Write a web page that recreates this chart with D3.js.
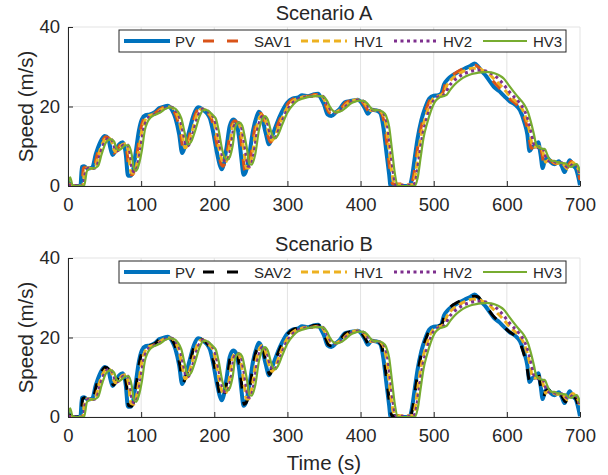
<!DOCTYPE html>
<html>
<head>
<meta charset="utf-8">
<script src="https://cdn.jsdelivr.net/npm/d3@7"></script>
<style>
  body { margin: 0; background: #fff; }
  text { font-family: "Liberation Sans", Arial, sans-serif; fill: #262626; }
</style>
</head>
<body>
<script>
// [time (s), speed (m/s)]
let pvSpeed = [[0,1],[3,0.5],[6,0],[17,0],[19,4.8],[22,5],[27,4.4],[33,4.6],[38,8],[44,11],[50,12.6],[55,12],[58,9.5],[61,7.8],[65,8.8],[70,10.5],[75,11],[79,8],[82,2.6],[86,2.6],[89,4],[93,9],[97,14],[101,16.8],[106,17.8],[112,18],[118,18.5],[125,19.6],[132,20],[136,20.2],[142,19.2],[147,17],[152,13],[156,8.3],[160,10],[166,14],[172,18],[178,19.8],[184,19.3],[190,18.3],[194,17],[198,14],[203,9],[208,5],[210,4.2],[213,5.5],[217,10],[221,15],[226,16.7],[230,16],[234,12],[237,7],[240,2.8],[243,3.5],[248,8],[253,14],[258,17.5],[261,18.7],[265,17.5],[270,13.5],[275,10.5],[279,12.5],[285,15.5],[292,18.5],[300,21],[307,22],[315,22.3],[320,22.8],[328,22.6],[335,23],[342,23.2],[346,22],[350,20.5],[355,18],[360,17.6],[366,18.5],[372,19.5],[378,21],[384,21.3],[390,21.5],[396,21.7],[401,21],[406,19.5],[410,18.2],[415,19.2],[422,19],[427,18.3],[431,15],[435,9],[439,3],[441,0],[467,0],[470,2],[474,7],[478,12],[483,16.5],[488,19.5],[494,22],[500,22.7],[505,22.8],[510,23.2],[514,25.5],[520,27],[527,28],[535,28.8],[542,29.5],[550,30.2],[556,30.8],[561,30],[566,28.8],[571,27.8],[576,26.5],[582,25],[590,23.8],[597,22.5],[604,21.3],[611,20.5],[618,19],[624,16],[628,13],[631,8.8],[635,9.8],[639,10],[643,11],[646,8],[649,4.5],[652,6.5],[656,7],[660,6],[665,5.5],[671,6.2],[675,5],[679,3.5],[683,5.5],[686,6.5],[690,5.2],[694,4.5],[698,2],[700,0.2]];

let sav1Speed = [[0,0.5],[5,0.3],[8,0],[19,0],[21,4.5],[25,4.8],[30,4.4],[35,4.6],[40,8],[46,11],[52,12.4],[57,11.8],[60,9.6],[63,8.3],[67,9],[72,10.5],[77,10.8],[81,8],[84,3],[88,2.8],[91,4.2],[95,9],[99,14],[103,16.6],[108,17.7],[114,18],[120,18.5],[127,19.5],[134,20],[138,20],[144,19.1],[149,17],[154,13],[158,9],[162,10.2],[168,14],[174,18],[180,19.6],[186,19.2],[192,18.2],[196,17],[200,14],[205,9],[210,5.3],[212,5],[215,6],[219,10],[223,15],[228,16.4],[232,15.8],[236,12],[239,7.5],[242,3.8],[245,4],[250,8],[255,14],[260,17.5],[263,18.3],[267,17.3],[272,13.5],[277,11],[281,12.5],[287,15.5],[294,18.5],[302,21],[309,22],[317,22.5],[322,22.6],[330,22.6],[337,23],[344,23],[348,22],[352,20.5],[357,18.5],[362,18.2],[368,18.8],[374,19.7],[380,21],[386,21.5],[392,21.8],[398,21.8],[403,21],[408,19.6],[412,18.7],[417,19.2],[424,19],[429,18.2],[433,15],[437,9],[441,3],[444,0.5],[468,0.5],[472,2],[476,7],[480,12],[485,16.5],[490,19.5],[496,22],[502,22.7],[507,22.8],[512,23.3],[516,25.8],[522,27.3],[529,28.3],[537,29.2],[544,29.8],[551,30.3],[557,30.4],[563,29.6],[568,28.6],[573,27.8],[578,27],[584,25.8],[592,24.2],[599,22.8],[606,21.6],[613,20.6],[620,19],[626,16],[630,13],[633,9.5],[637,9.8],[641,10],[645,10.5],[648,8],[651,5.5],[654,6.5],[658,6.8],[662,6],[667,5.6],[673,6],[677,5],[681,4],[685,5.5],[688,6.2],[692,5.3],[696,4.3],[700,1.5]];

let sav2Speed = [[0,0.6],[5,0.3],[8,0],[18,0],[20,4.6],[24,4.9],[29,4.4],[34,4.6],[39,8],[45,11],[51,12.5],[56,11.9],[59,9.5],[62,8],[66,8.9],[71,10.5],[76,10.9],[80,8],[83,2.8],[87,2.7],[90,4.1],[94,9],[98,14],[102,16.7],[107,17.8],[113,18],[119,18.5],[126,19.6],[133,20],[137,20.1],[143,19.2],[148,17],[153,13],[157,8.6],[161,10.1],[167,14],[173,18],[179,19.7],[185,19.3],[191,18.3],[195,17],[199,14],[204,9],[209,4.8],[211,4.6],[214,5.7],[218,10],[222,15],[227,16.5],[231,15.9],[235,12],[238,7.2],[241,3.2],[244,3.7],[249,8],[254,14],[259,17.5],[262,18.5],[266,17.4],[271,13.5],[276,10.7],[280,12.5],[286,15.5],[293,18.5],[301,21],[308,22],[316,22.4],[321,22.8],[329,22.6],[336,23],[343,23.1],[347,22],[351,20.5],[356,18.2],[361,17.9],[367,18.6],[373,19.6],[379,21],[385,21.4],[391,21.6],[397,21.7],[402,21],[407,19.5],[411,18.4],[416,19.2],[423,19],[428,18.2],[432,15],[436,9],[440,3],[443,0.3],[468,0.3],[471,2],[475,7],[479,12],[484,16.5],[489,19.5],[495,22],[501,22.7],[506,22.8],[511,23.3],[515,25.7],[521,27.3],[528,28.4],[536,29.2],[543,29.7],[550,30.2],[556,30.4],[561,30.2],[565,29.2],[570,28.2],[575,27],[581,25.5],[589,24],[596,22.7],[603,21.5],[610,20.6],[617,19],[623,16],[627,13],[631,9.2],[635,9.8],[639,10],[643,10.8],[646,8],[650,5],[653,6.5],[657,6.9],[661,6],[666,5.5],[672,6.1],[676,5],[680,3.8],[684,5.5],[687,6.3],[691,5.2],[695,4.4],[699,1.8],[700,1]];

// human-driven followers look the same in both scenarios
let hv1Speed = [[0,0.3],[7,0],[20,0],[23,4],[27,4.6],[32,4.4],[37,4.8],[42,8],[48,11],[54,12.2],[59,11.5],[62,9.5],[65,8.6],[69,9.2],[74,10.4],[79,10.6],[83,8],[86,3.5],[90,3.2],[93,4.5],[97,9],[101,14],[105,16.4],[110,17.6],[116,18],[122,18.5],[129,19.4],[136,19.9],[140,19.9],[146,19],[151,17],[156,13],[160,9.6],[164,10.4],[170,14],[176,17.8],[182,19.4],[188,19.1],[194,18],[198,17],[202,14],[207,9],[212,6],[214,5.8],[217,6.5],[221,10],[225,15],[230,16.2],[234,15.6],[238,12],[241,8],[244,4.5],[247,4.5],[252,8],[257,14],[262,17.3],[265,18],[269,17.1],[274,13.5],[279,11.5],[283,12.5],[289,15.5],[296,18.5],[304,20.8],[311,21.8],[319,22.3],[326,22.6],[334,22.6],[341,22.8],[346,22.8],[350,21.8],[354,20.3],[359,18.7],[364,18.4],[370,18.9],[376,19.7],[382,20.8],[388,21.4],[394,21.7],[400,21.6],[405,21],[410,19.7],[414,19],[419,19.1],[426,18.9],[431,18],[435,15],[439,9],[443,3],[447,0.3],[470,0.3],[474,2],[478,7],[482,12],[487,16.2],[492,19.2],[498,21.7],[504,22.5],[509,22.8],[514,23.4],[518,25.3],[524,26.8],[531,27.8],[539,28.7],[546,29.3],[553,29.6],[559,29.6],[565,29.3],[570,28.8],[575,28.2],[580,27.4],[586,26.3],[594,24.8],[601,23.3],[608,22],[615,20.8],[622,19],[628,16],[632,13],[635,10],[639,9.8],[643,9.8],[647,10],[650,8],[653,6],[656,6.4],[660,6.6],[664,6],[669,5.7],[675,5.9],[679,5],[683,4.3],[687,5.4],[690,5.9],[694,5.3],[698,4],[700,2.5]];

let hv2Speed = [[0,0.2],[8,0],[21,0],[24,3.8],[29,4.5],[34,4.4],[39,4.8],[44,8],[50,11],[56,12],[61,11.3],[64,9.5],[67,8.8],[71,9.3],[76,10.3],[81,10.4],[85,8],[88,4],[91,3.5],[95,5],[99,9],[103,14],[107,16.3],[112,17.5],[118,18],[124,18.5],[131,19.4],[138,19.8],[142,19.8],[148,18.9],[153,17],[158,13],[162,10],[166,10.6],[172,14],[178,17.7],[184,19.3],[190,19],[196,17.9],[200,17],[204,14],[209,9],[214,6.4],[216,6.2],[219,6.8],[223,10],[227,15],[232,16],[236,15.4],[240,12],[243,8.5],[246,5],[249,5],[254,8],[259,14],[264,17.2],[267,17.8],[271,17],[276,13.5],[281,11.8],[285,12.6],[291,15.5],[298,18.5],[306,20.7],[313,21.7],[321,22.2],[328,22.5],[336,22.6],[343,22.7],[348,22.6],[352,21.7],[356,20.2],[361,18.8],[366,18.5],[372,18.9],[378,19.7],[384,20.8],[390,21.3],[396,21.6],[402,21.5],[407,20.9],[412,19.7],[416,19.1],[421,19.1],[428,18.8],[433,17.8],[437,15],[441,9],[445,3],[449,0.2],[472,0.2],[476,2],[480,7],[484,12],[489,16],[494,19],[500,21.5],[506,22.4],[511,22.7],[516,23.2],[520,24.8],[526,26.2],[533,27.3],[541,28.2],[548,28.7],[555,29],[562,29.1],[568,29],[573,28.8],[578,28.4],[583,27.8],[589,26.9],[596,25.4],[603,23.8],[610,22.4],[617,21],[624,19],[630,16],[634,13],[637,10.5],[641,9.7],[645,9.6],[649,9.6],[652,8],[655,6.5],[658,6.3],[662,6.4],[666,6],[671,5.8],[677,5.8],[681,5],[685,4.6],[689,5.3],[692,5.7],[696,5],[700,3]];

let hv3Speed = [[0,0.5],[3,2.2],[6,0.3],[10,0],[22,0],[26,3.8],[31,4.4],[36,4.5],[41,5],[46,8],[52,11],[58,11.8],[63,11.2],[66,9.6],[69,9],[73,9.4],[78,10.2],[83,10.2],[87,8],[90,4.5],[93,3.8],[97,5.5],[101,9],[105,14],[109,16.2],[114,17.4],[120,18],[126,18.5],[133,19.4],[140,19.8],[144,19.7],[150,18.8],[155,17],[160,13],[164,10.4],[168,11],[174,14],[180,17.6],[186,19.2],[192,18.9],[198,17.8],[202,17],[206,14],[211,9],[216,6.8],[218,6.6],[221,7.2],[225,10],[229,15],[234,16],[238,15.3],[242,12],[245,9],[248,5.5],[251,5.4],[256,8],[261,14],[266,17],[269,17.6],[273,16.8],[278,13.5],[283,12],[287,12.8],[293,15.5],[300,18.5],[308,20.5],[315,21.6],[323,22.1],[330,22.5],[338,22.6],[345,22.6],[350,22.4],[354,21.5],[358,20],[363,18.8],[368,18.5],[374,18.9],[380,19.7],[386,20.7],[392,21.2],[398,21.5],[404,21.4],[409,20.8],[414,19.7],[418,19.1],[423,19.1],[430,18.7],[435,17.6],[439,15],[443,9],[447,3],[451,0],[474,0],[478,2],[482,7],[486,12],[491,15.8],[496,18.8],[502,21.3],[508,22.3],[513,22.6],[518,23],[523,24.3],[529,25.6],[536,26.7],[544,27.6],[551,28.1],[558,28.4],[565,28.6],[572,28.7],[578,28.6],[584,28.3],[590,27.8],[596,27],[602,25.5],[609,23.8],[616,22.2],[623,20.7],[629,18.5],[633,16],[637,13],[640,10.5],[644,9.6],[648,9.4],[652,9.3],[655,8],[658,6.8],[661,6.3],[665,6.3],[669,6],[674,5.8],[680,5.7],[684,5],[688,4.8],[692,5.3],[695,5.5],[698,4.8],[700,3.5]];

let xTicks = [0, 100, 200, 300, 400, 500, 600, 700];
let yTicks = [0, 20, 40];

let styles = {
	PV:   {color: "#0072BD", w: 4,   dash: null},
	SAV1: {color: "#D95319", w: 3,   dash: "11,13"},
	SAV2: {color: "#000000", w: 3,   dash: "11,13"},
	HV1:  {color: "#EDB120", w: 3,   dash: "7,4"},
	HV2:  {color: "#7E2F8E", w: 3,   dash: "3,3.5"},
	HV3:  {color: "#77AC30", w: 2.2, dash: null}
};

let W = 608, H = 475;
let left = 68, right = 580;

let svg = d3.select("body").append("svg")
	.attr("width", W)
	.attr("height", H);

let x = d3.scaleLinear().domain([0, 700]).range([left, right]);

function panel(top, bottom, title, series, id) {
	let y = d3.scaleLinear().domain([0, 40]).range([bottom, top]);
	let g = svg.append("g");

	// grid
	g.selectAll(".gx").data(xTicks).enter().append("line")
		.attr("x1", d => x(d)).attr("x2", d => x(d))
		.attr("y1", top).attr("y2", bottom)
		.attr("stroke", "#e3e3e3").attr("stroke-width", 1);
	g.selectAll(".gy").data(yTicks).enter().append("line")
		.attr("x1", left).attr("x2", right)
		.attr("y1", d => y(d)).attr("y2", d => y(d))
		.attr("stroke", "#e3e3e3").attr("stroke-width", 1);

	svg.append("clipPath").attr("id", id)
		.append("rect").attr("x", left).attr("y", top)
		.attr("width", right - left).attr("height", bottom - top);

	let line = d3.line().x(d => x(d[0])).y(d => y(d[1])).curve(d3.curveMonotoneX);

	let lines = g.append("g").attr("clip-path", "url(#" + id + ")");
	series.forEach(function(s) {
		let st = styles[s.name];
		lines.append("path")
			.attr("d", line(s.data))
			.attr("fill", "none")
			.attr("stroke", st.color)
			.attr("stroke-width", st.w)
			.attr("stroke-dasharray", st.dash)
			.attr("stroke-linejoin", "round");
	});

	// axes (ticks inward, MATLAB-ish)
	let xa = g.append("g").attr("transform", "translate(0," + bottom + ")")
		.call(d3.axisBottom(x).tickValues(xTicks).tickSizeInner(-5).tickSizeOuter(0).tickPadding(12));
	let ya = g.append("g").attr("transform", "translate(" + left + ",0)")
		.call(d3.axisLeft(y).tickValues(yTicks).tickSizeInner(-5).tickSizeOuter(0).tickPadding(8));
	[xa, ya].forEach(function(a) {
		a.select(".domain").attr("stroke", "#262626");
		a.selectAll(".tick line").attr("stroke", "#262626");
		a.selectAll("text").attr("font-size", 18.5).attr("fill", "#262626")
			.attr("font-family", "Liberation Sans, Arial, sans-serif");
	});

	g.append("text")
		.attr("x", (left + right) / 2).attr("y", top - 7)
		.attr("text-anchor", "middle").attr("font-size", 20)
		.text(title);

	g.append("text")
		.attr("transform", "translate(33," + (top + bottom) / 2 + ") rotate(-90)")
		.attr("text-anchor", "middle").attr("font-size", 20.5)
		.text("Speed (m/s)");

	// legend
	let lx = 119, ly = top + 3, lw = 447, lh = 22;
	let leg = g.append("g");
	leg.append("rect").attr("x", lx).attr("y", ly).attr("width", lw).attr("height", lh)
		.attr("fill", "#fff").attr("stroke", "#262626").attr("stroke-width", 1);
	let pos = [[124, 170, 175], [203, 248, 254], [301, 347, 354], [394, 439, 443], [483, 527, 533]];
	series.forEach(function(s, i) {
		let st = styles[s.name];
		let cy = ly + lh / 2;
		leg.append("line")
			.attr("x1", pos[i][0]).attr("x2", pos[i][1])
			.attr("y1", cy).attr("y2", cy)
			.attr("stroke", st.color).attr("stroke-width", st.w)
			.attr("stroke-dasharray", st.dash);
		leg.append("text")
			.attr("x", pos[i][2]).attr("y", cy + 5.5)
			.attr("font-size", 15)
			.text(s.name);
	});
}

panel(27, 186, "Scenario A", [
	{name: "PV", data: pvSpeed},
	{name: "SAV1", data: sav1Speed},
	{name: "HV1", data: hv1Speed},
	{name: "HV2", data: hv2Speed},
	{name: "HV3", data: hv3Speed}
], "clipA");

panel(258, 417, "Scenario B", [
	{name: "PV", data: pvSpeed},
	{name: "SAV2", data: sav2Speed},
	{name: "HV1", data: hv1Speed},
	{name: "HV2", data: hv2Speed},
	{name: "HV3", data: hv3Speed}
], "clipB");

svg.append("text")
	.attr("x", (left + right) / 2).attr("y", 470)
	.attr("text-anchor", "middle").attr("font-size", 20.5)
	.text("Time (s)");
</script>
</body>
</html>
